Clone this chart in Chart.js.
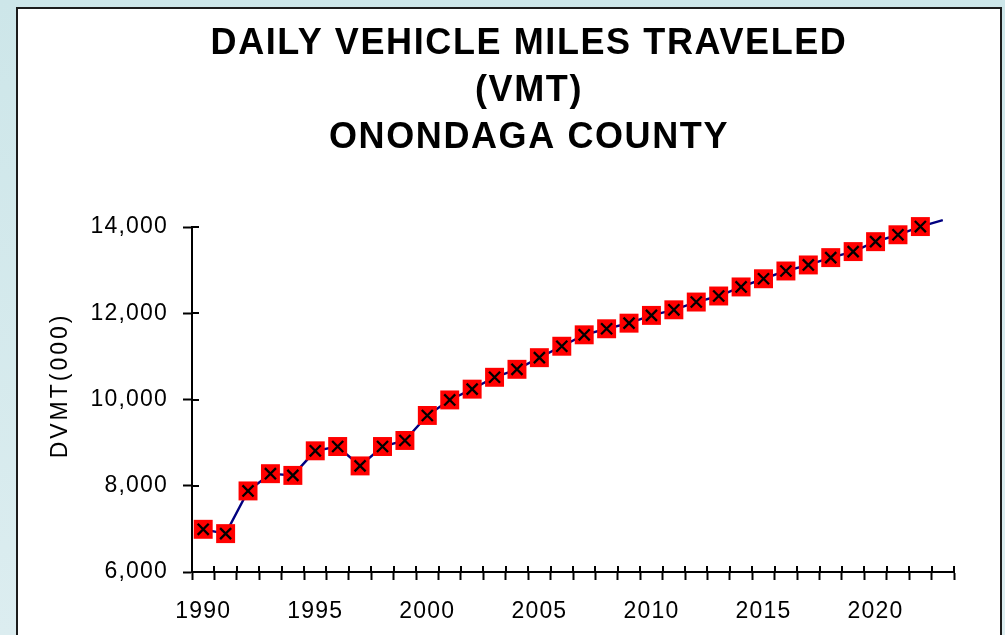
<!DOCTYPE html>
<html>
<head>
<meta charset="utf-8">
<script src="https://cdn.jsdelivr.net/npm/chart.js@4"></script>
<style>
  html, body { margin: 0; padding: 0; width: 1005px; height: 635px; overflow: hidden;
    background: linear-gradient(to bottom, #cde6e9, #dcedf0); }
  #panel { position: absolute; left: 16px; top: 7px; width: 982px; height: 650px;
    background: #ffffff; border: 2px solid #1c1c1c; box-sizing: content-box; }
  #c { position: absolute; left: 0; top: 0; }
</style>
</head>
<body>
<div id="panel"></div>
<canvas id="c" width="1058" height="635"></canvas>
<script>
const years = [1990,1991,1992,1993,1994,1995,1996,1997,1998,1999,
  2000,2001,2002,2003,2004,2005,2006,2007,2008,2009,
  2010,2011,2012,2013,2014,2015,2016,2017,2018,2019,
  2020,2021,2022,2023];
const dvmt = [6990,6890,7880,8280,8240,8810,8910,8460,8910,9050,
  9630,9990,10240,10515,10700,10970,11235,11500,11640,11770,
  11950,12080,12260,12400,12610,12800,12980,13120,13290,13430,
  13660,13820,14010,14160];
const markerShown = years.map(y => y <= 2022);
const titleLines = ['DAILY VEHICLE MILES TRAVELED', '(VMT)', 'ONONDAGA COUNTY'];
const yTitle = 'DVMT(000)';
const yMin = 6000, yMax = 14000, yStep = 2000;
const labelEvery = 5;

const FONT = "'Liberation Sans', Arial, sans-serif";

const spacingPlugin = {
  id: 'spacing',
  beforeDraw(chart) {
    chart.ctx.letterSpacing = '1.2px';
    const s = chart.scales.y;
    if (s && !s._wrappedTitle) {
      const orig = s.drawTitle.bind(s);
      s.drawTitle = function () {
        const c = this.ctx; const p = c.letterSpacing;
        c.letterSpacing = '3px'; orig(); c.letterSpacing = p;
      };
      s._wrappedTitle = true;
    }
    const t = chart.titleBlock;
    if (t && !t._wrapped) {
      const o2 = t.draw.bind(t);
      t.draw = function () {
        const c = chart.ctx; const p = c.letterSpacing;
        c.letterSpacing = '1.6px'; o2(); c.letterSpacing = p;
      };
      t._wrapped = true;
    }
  }
};

const innerTicks = {
  id: 'innerTicks',
  afterDraw(chart) {
    const ctx = chart.ctx, x = chart.scales.x, y = chart.scales.y;
    ctx.save();
    ctx.strokeStyle = '#000'; ctx.lineWidth = 2;
    ctx.beginPath();
    for (let i = 0; i <= years.length; i++) {
      const px = Math.round(x.getPixelForValue(i - 0.5));
      ctx.moveTo(px, x.top); ctx.lineTo(px, x.top - 6);
    }
    for (let v = yMin; v <= yMax; v += yStep) {
      const py = Math.round(y.getPixelForValue(v));
      ctx.moveTo(y.right, py); ctx.lineTo(y.right + 7, py);
    }
    ctx.stroke();
    ctx.restore();
  }
};

new Chart(document.getElementById('c'), {
  type: 'line',
  data: {
    labels: years.map(String),
    datasets: [
      {
        data: dvmt,
        showLine: false,
        pointStyle: 'crossRot',
        pointRadius: markerShown.map(s => s ? 7.8 : 0),
        pointBorderColor: '#000000',
        pointBorderWidth: 2.3,
        clip: false
      },
      {
        data: dvmt,
        borderColor: '#000080',
        borderWidth: 2.4,
        tension: 0,
        pointStyle: 'rect',
        pointRadius: markerShown.map(s => s ? 13.4 : 0),
        pointBackgroundColor: '#ff0000',
        pointBorderColor: '#ff0000',
        pointBorderWidth: 0,
        clip: false
      }
    ]
  },
  options: {
    responsive: false,
    animation: false,
    events: [],
    layout: { padding: { left: 0, right: 0, top: 0, bottom: 13 } },
    plugins: {
      legend: { display: false },
      tooltip: { enabled: false },
      title: {
        display: true,
        text: titleLines,
        color: '#000000',
        font: { family: FONT, size: 36, weight: 'bold', lineHeight: 47 / 36 },
        padding: { top: 21, bottom: 65 }
      }
    },
    scales: {
      x: {
        type: 'category',
        offset: true,
        afterFit(s) { s.height = 50; },
        grid: { offset: true, drawOnChartArea: false, drawTicks: true, tickLength: 8,
                tickColor: '#000', tickWidth: 2 },
        border: { display: true, color: '#000', width: 2 },
        ticks: {
          autoSkip: false, maxRotation: 0, padding: 18, color: '#000',
          font: { family: FONT, size: 23 },
          callback(v, i) { return i % labelEvery === 0 ? years[i] : ''; }
        }
      },
      y: {
        min: yMin, max: yMax,
        afterFit(s) { s.width = 192; },
        grid: { drawOnChartArea: false, drawTicks: true, tickLength: 9,
                tickColor: '#000', tickWidth: 2 },
        border: { display: true, color: '#000', width: 2 },
        ticks: { stepSize: yStep, padding: 15, color: '#000',
                 font: { family: FONT, size: 23 } },
        title: {
          display: true, text: '   ' + yTitle, color: '#000',
          font: { family: FONT, size: 23, lineHeight: 1.2 },
          padding: { top: 47, bottom: 0 }
        }
      },
      yRightSpace: {
        type: 'linear',
        position: 'right',
        display: true,
        afterFit(s) { s.width = 104; },
        grid: { display: false, drawTicks: false },
        border: { display: false },
        ticks: { display: false }
      }
    }
  },
  plugins: [spacingPlugin, innerTicks]
});
</script>
</body>
</html>
